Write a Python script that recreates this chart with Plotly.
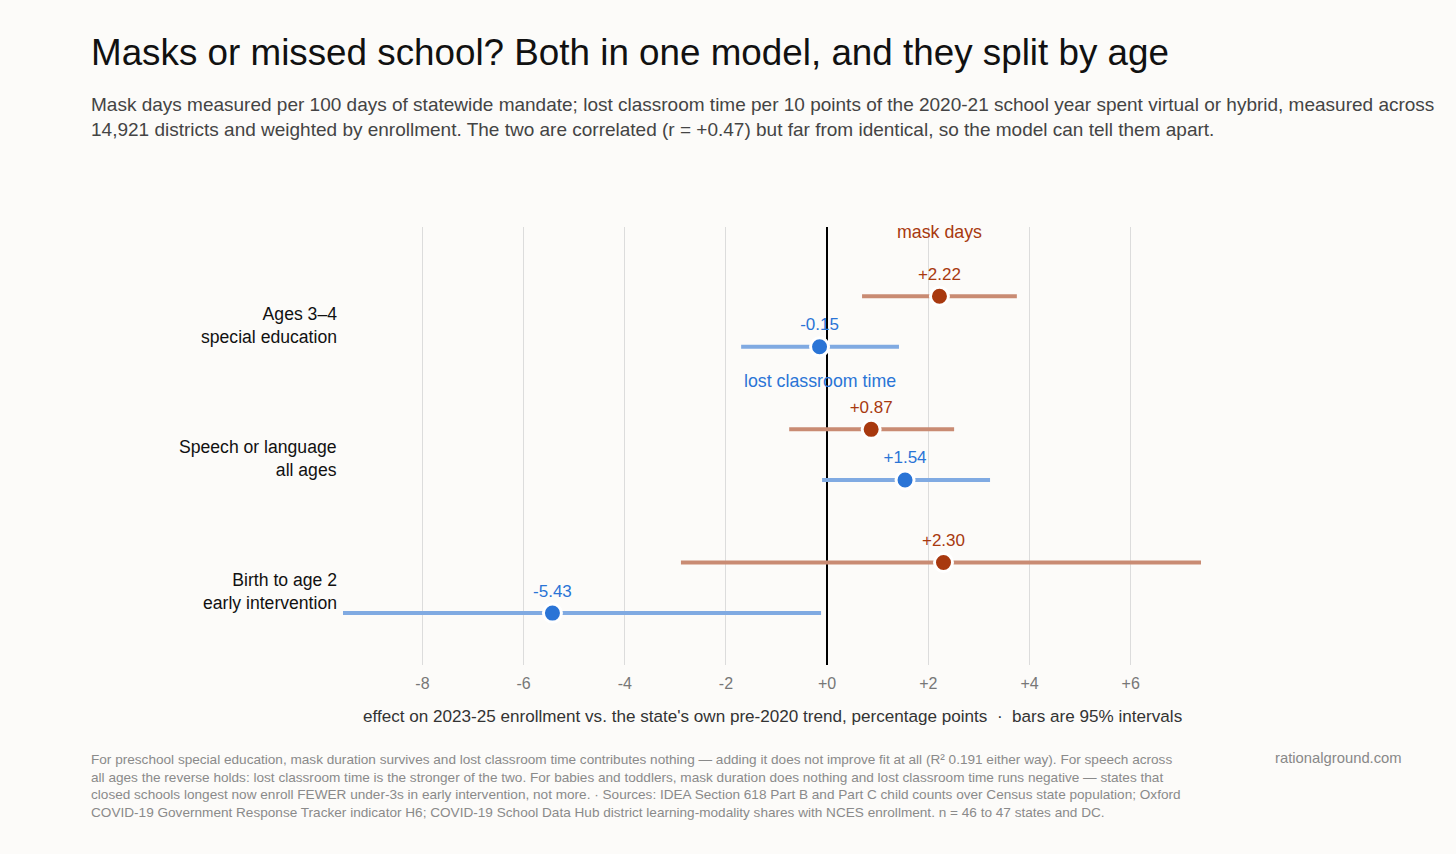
"""Dot-and-whisker chart: mask days vs lost classroom time, by age group."""

import plotly.graph_objects as go

# --- data -------------------------------------------------------------
groups = ["Ages 3–4<br>special education",
          "Speech or language<br>all ages",
          "Birth to age 2<br>early intervention"]

mask_est = [2.22, 0.87, 2.30]
mask_lo = [0.69, -0.75, -2.89]
mask_hi = [3.75, 2.51, 7.39]

lost_est = [-0.15, 1.54, -5.43]
lost_lo = [-1.70, -0.10, -9.57]
lost_hi = [1.42, 3.22, -0.12]

x_ticks = [-8, -6, -4, -2, 0, 2, 4, 6]
x_ticktext = ["-8", "-6", "-4", "-2", "+0", "+2", "+4", "+6"]

# --- style ------------------------------------------------------------
W, H = 1456, 854
L, R, T, B = 343, 1201, 227, 665
FONT = "Liberation Sans, Arial, Helvetica, sans-serif"
BG = "#fcfbf9"
MASK = "#a8390f"
MASK_CI = "#c98b73"
LOST = "#2a74d6"
LOST_CI = "#80aae2"
OFF = 0.19  # vertical offset of each series from its group centre


def px(x, y):
    """Pixel position -> paper coordinates."""
    return (x - L) / (R - L), (B - y) / (B - T)


def ci_path(lo, hi, ys):
    xs, yy = [], []
    for a, b, y in zip(lo, hi, ys):
        xs += [a, b, None]
        yy += [y, y, None]
    return xs, yy


pos = list(range(len(groups)))
mask_y = [p - OFF for p in pos]
lost_y = [p + OFF for p in pos]

fig = go.Figure()

for lo, hi, ys, col in [(mask_lo, mask_hi, mask_y, MASK_CI),
                        (lost_lo, lost_hi, lost_y, LOST_CI)]:
    cx, cy = ci_path(lo, hi, ys)
    fig.add_trace(go.Scatter(x=cx, y=cy, mode="lines",
                             line=dict(color=col, width=4),
                             hoverinfo="skip", showlegend=False))

for est, ys, col, name in [(mask_est, mask_y, MASK, "mask days"),
                           (lost_est, lost_y, LOST, "lost classroom time")]:
    fig.add_trace(go.Scatter(
        x=est, y=ys, mode="markers+text", name=name,
        text=[f"{v:+.2f}" for v in est], textposition="top center",
        textfont=dict(color=col, size=17, family=FONT),
        marker=dict(color=col, size=18, line=dict(color="white", width=3)),
        showlegend=False,
    ))

# series labels next to the first group
fig.add_annotation(x=mask_est[0], y=mask_y[0], text="mask days", showarrow=False,
                   yshift=64, font=dict(color=MASK, size=17.8, family=FONT))
fig.add_annotation(x=lost_est[0], y=lost_y[0], text="lost classroom time",
                   showarrow=False, yshift=-34,
                   font=dict(color=LOST, size=17.8, family=FONT))

# group labels, right-aligned against the plot area
for p, g in zip(pos, groups):
    fig.add_annotation(xref="paper", x=0, y=p, text=g, showarrow=False,
                       xanchor="right", align="right", xshift=-4, yshift=-4,
                       font=dict(size=17.6, color="#111", family=FONT))

# --- text blocks ------------------------------------------------------
title = "Masks or missed school? Both in one model, and they split by age"
subtitle = ("Mask days measured per 100 days of statewide mandate; lost classroom time per 10 points "
            "of the 2020-21 school year spent virtual or hybrid, measured across<br>"
            "14,921 districts and weighted by enrollment. The two are correlated (r = +0.47) "
            "but far from identical, so the model can tell them apart.")
footnote = ("For preschool special education, mask duration survives and lost classroom time contributes "
            "nothing — adding it does not improve fit at all (R² 0.191 either way). For speech across<br>"
            "all ages the reverse holds: lost classroom time is the stronger of the two. For babies and "
            "toddlers, mask duration does nothing and lost classroom time runs negative — states that<br>"
            "closed schools longest now enroll FEWER under-3s in early intervention, not more. · "
            "Sources: IDEA Section 618 Part B and Part C child counts over Census state population; Oxford<br>"
            "COVID-19 Government Response Tracker indicator H6; COVID-19 School Data Hub district "
            "learning-modality shares with NCES enrollment. n = 46 to 47 states and DC.")
xtitle = ("effect on 2023-25 enrollment vs. the state's own pre-2020 trend, percentage points"
          "  ·  bars are 95% intervals")

texts = [
    (89, 53, title, 36.8, "#111", "left", "middle"),
    (89, 117, subtitle, 19, "#444", "left", "middle"),
    (89, 786, footnote, 13.6, "#8a8a8a", "left", "middle"),
    (1404, 758, "rationalground.com", 14.8, "#888", "right", "middle"),
    (772, 716, xtitle, 17.1, "#333", "center", "middle"),
]
for x, y, t, s, c, xa, ya in texts:
    ax, ay = px(x, y)
    fig.add_annotation(xref="paper", yref="paper", x=ax, y=ay, text=t, showarrow=False,
                       xanchor=xa, yanchor=ya, align=xa,
                       font=dict(size=s, color=c, family=FONT))

fig.update_layout(
    width=W, height=H,
    margin=dict(l=L, r=W - R, t=T, b=H - B),
    paper_bgcolor=BG, plot_bgcolor=BG,
    font=dict(family=FONT),
    xaxis=dict(range=[-9.57, 7.39], tickvals=x_ticks, ticktext=x_ticktext,
               showgrid=True, gridcolor="#dcdcdc", gridwidth=1,
               zeroline=True, zerolinecolor="#000", zerolinewidth=2,
               showline=False, ticks="", ticklabelstandoff=7,
               tickfont=dict(size=16, color="#777"), fixedrange=True),
    yaxis=dict(range=[2.58, -0.71], showgrid=False, zeroline=False,
               showline=False, ticks="", showticklabels=False, fixedrange=True),
)

# drop the page's default body margin so the figure sits at the top-left corner
fig.write_html("out.html", config={"displayModeBar": False},
               post_script="document.body.style.margin = '0';")
